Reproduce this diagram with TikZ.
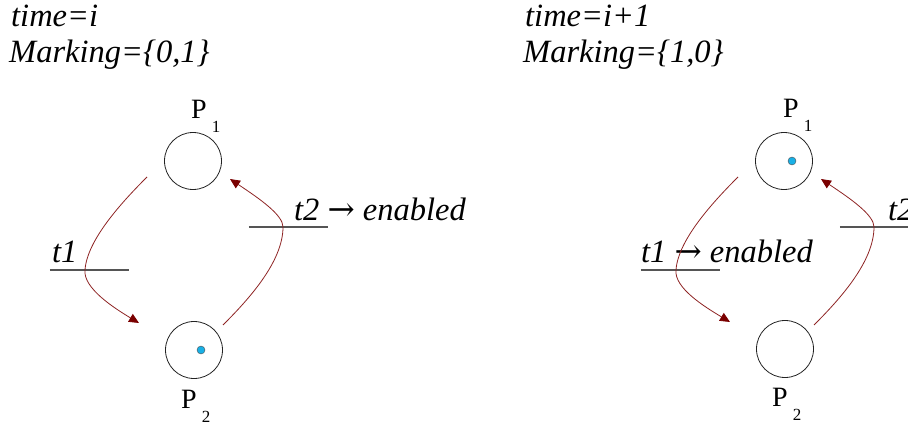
\documentclass[tikz,border=0pt]{standalone}
\usepackage{fontspec}
\setmainfont{Liberation Serif}
\newfontfamily\arrowfont{DejaVu Serif}
\usepackage{tikz}
\usetikzlibrary{arrows.meta,calc}
\definecolor{ink}{HTML}{222222}
\definecolor{arcred}{HTML}{8E2424}
\definecolor{tipred}{HTML}{7A0000}
\definecolor{tokblue}{HTML}{19B0E6}
\definecolor{bargray}{HTML}{555555}
\newcommand{\plsub}[1]{\kern5pt\raisebox{-14pt}{\fontsize{17}{17}\selectfont #1}}
\newcommand{\toarrow}{{\upshape\arrowfont →}}

\begin{document}
\begin{tikzpicture}[
  x=1pt,y=-1pt,
  place/.style={draw=ink,circle,minimum size=57pt,inner sep=0pt,line width=0.8pt},
  tok/.style={draw=ink!80,fill=tokblue,circle,minimum size=8pt,inner sep=0pt,line width=0.4pt},
  bar/.style={minimum width=79pt,minimum height=0pt,inner sep=0pt},
  barline/.style={draw=bargray,line width=1.2pt},
  txt/.style={anchor=base west,inner sep=0pt,font=\fontsize{32.5}{38}\selectfont\itshape},
  plab/.style={anchor=base west,inner sep=0pt,font=\fontsize{28}{32}\selectfont},
  arc/.style={draw=arcred,line width=0.8pt,-{Triangle[length=10pt,width=9pt,color=tipred]}}
]
\useasboundingbox (0,0) rectangle (908,425);
\clip (0,0) rectangle (908,425);
% time i
\node[txt] (timea) at (11,27) {time=i};
\node[txt] (marka) at (9,63) {Marking=\{0,1\}};
\node[place] (p1a) at (193,161) {};
\node[place] (p2a) at (194,350) {};
\node[tok] (m2a) at (201,350) {};
\node[plab] (l1a) at (191,119) {P\plsub{1}};
\node[plab] (l2a) at (181,408) {P\plsub{2}};
\node[bar] (t1a) at (89.5,270) {};
\node[bar] (t2a) at (288.5,227) {};
\draw[barline] (t1a.west) -- (t1a.east);
\draw[barline] (t2a.west) -- (t2a.east);
\coordinate (x1a) at (85,270);
\coordinate (x2a) at (283,227);
\node[txt] (n1a) at (52,262) {t1};
\node[txt] (n2a) at (294,220) {t2 \toarrow{} enabled};
\draw[arc] ($(p1a)+(-46,16)$) .. controls +(-25,25) and +(2,-30) .. (x1a)
  .. controls +(-2,18) and +(-25,-15) .. ($(p2a)+(-55,-27)$);
\draw[arc] ($(p2a)+(29,-25)$) .. controls +(25,-25) and +(0,35) .. (x2a)
  .. controls +(0,-12) and +(30,20) .. ($(p1a)+(37,18)$);
% time i+1
\node[txt] (timeb) at (525,27) {time=i+1};
\node[txt] (markb) at (523,63) {Marking=\{1,0\}};
\node[place] (p1b) at (784,161) {};
\node[place] (p2b) at (785,349) {};
\node[tok] (m1b) at (792,161) {};
\node[plab] (l1b) at (783,118) {P\plsub{1}};
\node[plab] (l2b) at (772,406) {P\plsub{2}};
\node[bar] (t1b) at (680.5,270) {};
\node[bar] (t2b) at (879.5,227) {};
\draw[barline] (t1b.west) -- (t1b.east);
\draw[barline] (t2b.west) -- (t2b.east);
\coordinate (x1b) at (676,270);
\coordinate (x2b) at (874,227);
\node[txt] (n1b) at (641,262) {t1 \toarrow{} enabled};
\node[txt] (n2b) at (888,220) {t2};
\draw[arc] ($(p1b)+(-46,16)$) .. controls +(-25,25) and +(2,-30) .. (x1b)
  .. controls +(-2,18) and +(-25,-15) .. ($(p2b)+(-55,-27)$);
\draw[arc] ($(p2b)+(29,-24)$) .. controls +(25,-25) and +(0,35) .. (x2b)
  .. controls +(0,-12) and +(30,20) .. ($(p1b)+(37,18)$);
\end{tikzpicture}
\end{document}
